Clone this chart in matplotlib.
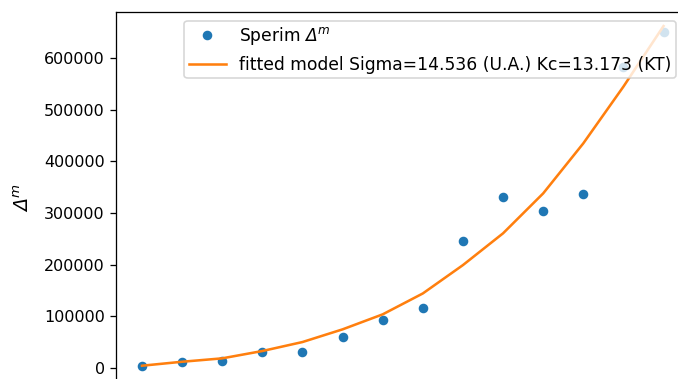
import matplotlib
matplotlib.use("Agg")
import matplotlib.pyplot as plt
import numpy as np

# Oblique sans for the math symbols, Greek capitals included
plt.rcParams['mathtext.fontset'] = 'custom'
plt.rcParams['mathtext.rm'] = 'DejaVu Sans:oblique'
plt.rcParams['mathtext.it'] = 'DejaVu Sans:oblique'

# Measurement index and observed Delta^m values
x_idx = np.arange(1, 15)
delta_m = [3000, 11000, 13000, 30000, 30000, 59000, 92500, 115700,
           245000, 331000, 304500, 337500, 583700, 651500]
# Model curve evaluated at the same points
fit_vals = [3900, 11600, 18200, 32400, 49800, 74400, 103500, 144000,
            199000, 260600, 338000, 435000, 545000, 662500]

sigma = 14.536
kc = 13.173

delta_sym = r'$\Delta^m$'

dpi = 115
fig = plt.figure(figsize=(678 / dpi, 379 / dpi), dpi=dpi)
ax = fig.add_axes([0.1709, -0.0111, 0.8462, 0.9784])

ax.plot(x_idx, delta_m, 'o', markersize=5, label='Sperim ' + delta_sym)
ax.plot(x_idx, fit_vals, '-', linewidth=1.6,
        label=f'fitted model Sigma={sigma:.3f} (U.A.) Kc={kc:.3f} (KT)')

ax.set_xlim(0.35, 14.65)
ax.set_ylim(-30000, 689000)
ax.tick_params(axis='x', labelbottom=False)
ax.set_ylabel(delta_sym, fontsize=12, labelpad=7)
ax.legend(loc='upper right', bbox_to_anchor=(0.9763, 0.9768), borderaxespad=0,
          fontsize=10.75, handlelength=2.15, borderpad=0.25, labelspacing=0.5)

fig.savefig('out.png', dpi=dpi)
